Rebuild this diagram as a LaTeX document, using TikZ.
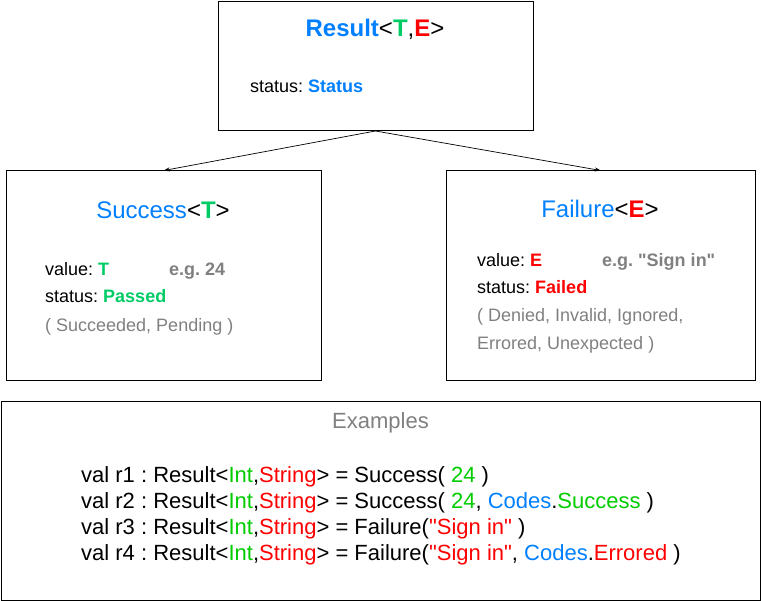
\documentclass[tikz,border=0pt]{standalone}
\usepackage{fontspec}
\setmainfont{Liberation Sans}
\usetikzlibrary{arrows.meta}
\definecolor{typeblue}{HTML}{007FFF}
\definecolor{tgreen}{HTML}{00CC66}
\definecolor{intgreen}{HTML}{00CC00}
\definecolor{ered}{HTML}{FF0000}
\definecolor{hint}{HTML}{808080}
\frenchspacing

\begin{document}
\begin{tikzpicture}[x=1pt,y=-1pt,
  box/.style={draw, line width=1pt, anchor=north west, inner sep=0pt},
  title/.style={anchor=base, inner sep=0pt, font=\fontsize{24}{28}\selectfont},
  field/.style={anchor=base west, inner sep=0pt, font=\fontsize{18}{22}\selectfont},
  code/.style={anchor=base west, inner sep=0pt, font=\fontsize{22}{26}\selectfont}]
\useasboundingbox (0,0) rectangle (761,601);
% boxes
\node[box, minimum width=315pt, minimum height=129pt] (result) at (217.5,1) {};
\node[box, minimum width=315.5pt, minimum height=210pt] (success) at (5.5,170.5) {};
\node[box, minimum width=309.5pt, minimum height=210pt] (failure) at (445.5,170.5) {};
\node[box, minimum width=759pt, minimum height=199pt] (examples) at (1,401) {};
% Result
\node[title] (resultT) at (375,37) {\textbf{\textcolor{typeblue}{Result}}<\textbf{\textcolor{tgreen}{T}},\textbf{\textcolor{ered}{E}}>};
\node[field] (resultS) at (250,93) {status: \textbf{\textcolor{typeblue}{Status}}};
% Success
\node[title] (successT) at (163,219) {\textcolor{typeblue}{Success}<\textbf{\textcolor{tgreen}{T}}>};
\node[field] (successV) at (45,276) {value: \textbf{\textcolor{tgreen}{T}}};
\node[field] (successEg) at (169,276) {\textbf{\textcolor{hint}{e.g. 24}}};
\node[field] (successS) at (45,303) {status: \textbf{\textcolor{tgreen}{Passed}}};
\node[field, text=hint] (successO) at (45,332) {( Succeeded, Pending )};
% Failure
\node[title] (failureT) at (600,218) {\textcolor{typeblue}{Failure}<\textbf{\textcolor{ered}{E}}>};
\node[field] (failureV) at (477,267) {value: \textbf{\textcolor{ered}{E}}};
\node[field] (failureEg) at (602,267) {\textbf{\textcolor{hint}{e.g. \textquotedbl Sign in\textquotedbl}}};
\node[field] (failureS) at (477,294) {status: \textbf{\textcolor{ered}{Failed}}};
\node[field, text=hint] (failureO1) at (477,322) {( Denied, Invalid, Ignored,};
\node[field, text=hint] (failureO2) at (477,350) {Errored, Unexpected )};
% Examples
\node[title, font=\fontsize{22}{26}\selectfont, text=hint] (examplesT) at (380.5,429) {Examples};
\node[code] (r1) at (81,483) {val r1 : Result<\textcolor{intgreen}{Int},\textcolor{ered}{String}> = Success( \textcolor{intgreen}{24} )};
\node[code] (r2) at (81,509) {val r2 : Result<\textcolor{intgreen}{Int},\textcolor{ered}{String}> = Success( \textcolor{intgreen}{24}, \textcolor{typeblue}{Codes}.\textcolor{intgreen}{Success} )};
\node[code] (r3) at (81,535) {val r3 : Result<\textcolor{intgreen}{Int},\textcolor{ered}{String}> = Failure(\textcolor{ered}{\textquotedbl Sign in\textquotedbl} )};
\node[code] (r4) at (81,561) {val r4 : Result<\textcolor{intgreen}{Int},\textcolor{ered}{String}> = Failure(\textcolor{ered}{\textquotedbl Sign in\textquotedbl}, \textcolor{typeblue}{Codes}.\textcolor{ered}{Errored} )};
% arrows
\draw [-{Stealth[length=6pt,width=4pt]}, line width=0.7pt] (result.south) -- (success.north);
\draw [-{Stealth[length=6pt,width=4pt]}, line width=0.7pt] (result.south) -- (failure.north);
\end{tikzpicture}
\end{document}
